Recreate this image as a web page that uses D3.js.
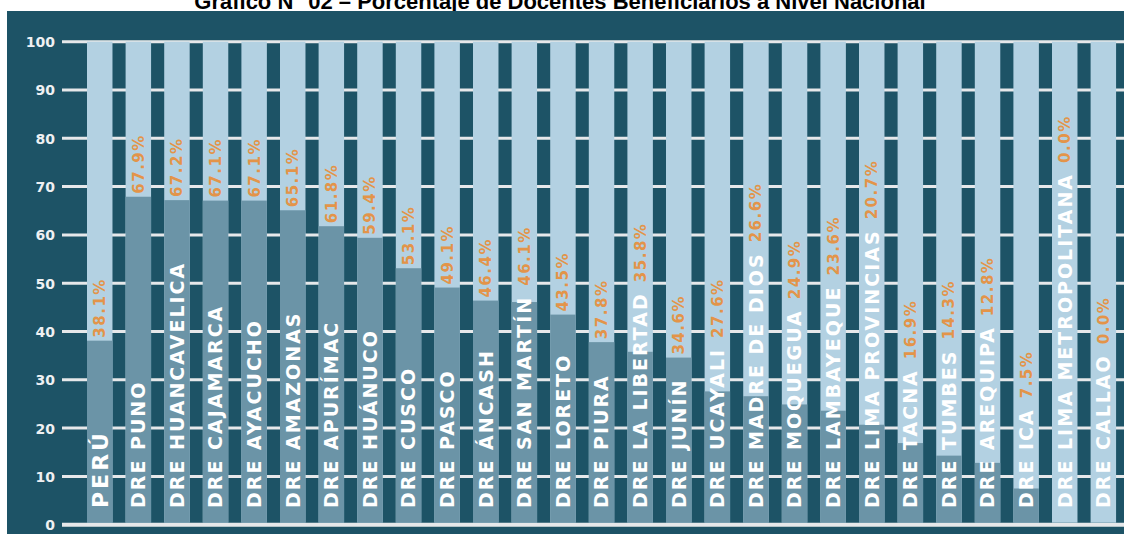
<!DOCTYPE html>
<html>
<head>
<meta charset="utf-8">
<script src="https://cdn.jsdelivr.net/npm/d3@7"></script>
<style>
  html, body { margin: 0; padding: 0; background: #ffffff; }
  svg { display: block; }
</style>
</head>
<body>
<div id="chart"></div>
<script>
const titleText = "Gráfico N° 02 – Porcentaje de Docentes Beneficiarios a Nivel Nacional";
const categories = [
  "PERÚ", "DRE PUNO", "DRE HUANCAVELICA", "DRE CAJAMARCA", "DRE AYACUCHO",
  "DRE AMAZONAS", "DRE APURÍMAC", "DRE HUÁNUCO", "DRE CUSCO", "DRE PASCO",
  "DRE ÁNCASH", "DRE SAN MARTÍN", "DRE LORETO", "DRE PIURA", "DRE LA LIBERTAD",
  "DRE JUNÍN", "DRE UCAYALI", "DRE MADRE DE DIOS", "DRE MOQUEGUA", "DRE LAMBAYEQUE",
  "DRE LIMA PROVINCIAS", "DRE TACNA", "DRE TUMBES", "DRE AREQUIPA", "DRE ICA",
  "DRE LIMA METROPOLITANA", "DRE CALLAO"
];
const values = [
  38.1, 67.9, 67.2, 67.1, 67.1,
  65.1, 61.8, 59.4, 53.1, 49.1,
  46.4, 46.1, 43.5, 37.8, 35.8,
  34.6, 27.6, 26.6, 24.9, 23.6,
  20.7, 16.9, 14.3, 12.8, 7.5,
  0.0, 0.0
];
const yTicks = [0, 10, 20, 30, 40, 50, 60, 70, 80, 90, 100];
const yMax = 100;

const W = 1124, H = 534;
const colors = {
  panel: "#1d5366",
  track: "#b3d1e2",
  bar: "#6b94a7",
  grid: "#e6e8ea",
  tick: "#eef0f2",
  label: "#ffffff",
  value: "#e39449",
  title: "#000000"
};

const svg = d3.select("#chart").append("svg")
  .attr("width", W).attr("height", H);

// title (partly hidden behind panel, as in the reference)
svg.append("text")
  .attr("x", 560).attr("y", 9)
  .attr("text-anchor", "middle")
  .attr("font-family", "'Liberation Sans', Arial, sans-serif")
  .attr("font-weight", "bold")
  .attr("font-size", 22)
  .attr("fill", colors.title)
  .text(titleText);

svg.append("rect")
  .attr("x", 7).attr("y", 11)
  .attr("width", W - 7).attr("height", H - 11)
  .attr("fill", colors.panel);

const y = d3.scaleLinear().domain([0, yMax]).range([524.7, 41.7]);
const x = d3.scaleBand().domain(categories)
  .range([80.44, 80.44 + categories.length * 38.6])
  .paddingInner(0.34).paddingOuter(0.17);

// gridlines
svg.append("g").selectAll("line").data(yTicks).join("line")
  .attr("x1", 62).attr("x2", W)
  .attr("y1", d => y(d)).attr("y2", d => y(d))
  .attr("stroke", colors.grid)
  .attr("stroke-width", d => d === 0 ? 4 : 3);

// y axis labels
const yAxis = d3.axisLeft(y).tickValues(yTicks).tickSize(0).tickPadding(0).tickFormat(d3.format("d"));
const gy = svg.append("g").attr("transform", "translate(55,0)").call(yAxis);
gy.select(".domain").remove();
gy.selectAll("text")
  .attr("fill", colors.tick)
  .attr("font-family", "'DejaVu Sans', sans-serif")
  .attr("font-weight", "bold")
  .attr("font-size", 14)
  .attr("dy", "0.35em");

const data = categories.map((c, i) => ({ c, v: values[i], i }));

// background tracks to 100
svg.append("g").selectAll("rect").data(data).join("rect")
  .attr("x", d => x(d.c)).attr("width", x.bandwidth())
  .attr("y", y(100)).attr("height", y(0) - y(100) - 2)
  .attr("fill", colors.track);

// value bars
svg.append("g").selectAll("rect").data(data).join("rect")
  .attr("x", d => x(d.c)).attr("width", x.bandwidth())
  .attr("y", d => y(d.v)).attr("height", d => Math.max(0, y(0) - y(d.v) - 2))
  .attr("fill", colors.bar);

const labelBase = 508;
const catG = svg.append("g");
const labels = catG.selectAll("text").data(data).join("text")
  .attr("transform", d => `translate(${x(d.c) + x.bandwidth() / 2},${labelBase}) rotate(-90)`)
  .attr("dy", "0.36em")
  .attr("text-anchor", "start")
  .attr("font-family", "'DejaVu Sans', sans-serif")
  .attr("font-weight", "bold")
  .attr("font-size", d => d.i === 0 ? 22 : 19)
  .attr("letter-spacing", d => d.i === 0 ? 3 : 2)
  .attr("fill", colors.label)
  .text(d => d.c);

const fmt = d3.format(".1f");
const valG = svg.append("g");
labels.each(function(d) {
  const len = this.getComputedTextLength();
  const labelTop = labelBase - len;
  const yPos = Math.min(y(d.v) - 3, labelTop - 10);
  valG.append("text")
    .attr("transform", `translate(${x(d.c) + x.bandwidth() / 2},${yPos}) rotate(-90)`)
    .attr("dy", "0.36em")
    .attr("text-anchor", "start")
    .attr("font-family", "'DejaVu Sans', sans-serif")
    .attr("font-weight", "bold")
    .attr("font-size", 15)
    .attr("letter-spacing", 1.5)
    .attr("fill", colors.value)
    .text(fmt(d.v) + "%");
});
</script>
</body>
</html>
